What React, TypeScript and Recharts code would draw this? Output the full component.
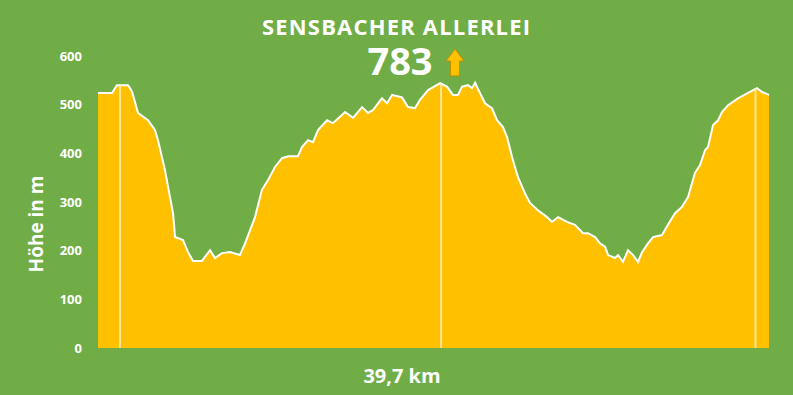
import { AreaChart, Area, XAxis, YAxis, ReferenceLine } from 'recharts'

// elevation profile
const distanceKm = [
  0, 0.83, 1.12, 1.78, 2.01, 2.37, 2.96, 3.37, 3.55, 3.96, 4.26, 4.44, 4.56, 5.03, 5.33, 5.62,
  6.15, 6.63, 6.92, 7.34, 7.81, 8.4, 8.7, 9.29, 9.7, 10.06, 10.47, 10.89, 11.24, 11.83, 12.07,
  12.43, 12.72, 13.02, 13.55, 13.9, 14.62, 15.09, 15.62, 15.98, 16.27, 16.8, 17.1, 17.4, 17.99,
  18.34, 18.76, 19.05, 19.53, 20.24, 20.65, 21.0, 21.3, 21.54, 21.89, 22.13, 22.31, 22.6, 22.9,
  23.31, 23.61, 23.96, 24.2, 24.5, 24.85, 25.26, 25.56, 26.03, 26.57, 26.86, 27.22, 27.75, 28.22,
  28.7, 28.99, 29.41, 29.7, 30.0, 30.18, 30.59, 30.77, 31.06, 31.36, 31.66, 31.95, 32.19, 32.54,
  32.84, 33.37, 33.72, 34.14, 34.55, 34.91, 35.32, 35.62, 35.92, 36.09, 36.39, 36.69, 36.92,
  37.28, 37.87, 38.46, 38.99, 39.29, 39.7,
]
const elevationM = [
  524, 524, 540, 540, 527, 483, 468, 448, 427, 366, 310, 277, 228, 222, 197, 179,
  179, 201, 185, 195, 197, 191, 215, 269, 325, 345, 372, 390, 394, 394, 413,
  427, 423, 448, 468, 462, 485, 473, 495, 483, 489, 513, 503, 520, 515,
  495, 493, 510, 530, 544, 537, 520, 520, 537, 540, 534, 545, 524, 503,
  493, 468, 454, 434, 392, 351, 318, 298, 283, 269, 259, 269, 259, 253,
  236, 236, 228, 215, 208, 191, 185, 191, 177, 201, 191, 177, 197, 215,
  228, 232, 253, 277, 290, 310, 360, 376, 407, 413, 458, 468, 485,
  499, 513, 524, 534, 526, 520,
]
const yTicks = [0, 100, 200, 300, 400, 500, 600]
const markerKm = [1.3, 20.3, 38.9]

const title = 'SENSBACHER ALLERLEI'
const maxElevation = '783'
const distanceLabel = '39,7 km'
const yLabel = 'Höhe in m'

const data = distanceKm.map((km, i) => ({ km, ele: elevationM[i] }))

function eleAt(km: number) {
  for (let i = 1; i < distanceKm.length; i++) {
    if (km <= distanceKm[i]) {
      const t = (km - distanceKm[i - 1]) / (distanceKm[i] - distanceKm[i - 1])
      return elevationM[i - 1] + t * (elevationM[i] - elevationM[i - 1])
    }
  }
  return elevationM[elevationM.length - 1]
}

const font = '"Open Sans", sans-serif'

export default function App() {
  return (
    <div style={{ position: 'absolute', left: 0, top: 0, width: 793, height: 395, background: '#70AD47', fontFamily: font }}>
      <AreaChart width={793} height={395} data={data} margin={{ top: 56, right: 24, bottom: 47, left: 0 }}>
        <XAxis dataKey="km" type="number" domain={[0, 39.7]} hide />
        <YAxis
          width={98}
          domain={[0, 600]}
          ticks={yTicks}
          axisLine={false}
          tickLine={false}
          tickMargin={10}
          tick={{ fill: '#fff', fontSize: 13, fontWeight: 700, fontFamily: font }}
        />
        <Area
          type="linear"
          dataKey="ele"
          fill="#FFC000"
          fillOpacity={1}
          stroke="#fff"
          strokeWidth={2}
          isAnimationActive={false}
        />
        {markerKm.map((km) => (
          <ReferenceLine
            key={km}
            segment={[{ x: km, y: 0 }, { x: km, y: eleAt(km) }]}
            stroke="#FFE699"
            strokeWidth={2}
          />
        ))}
      </AreaChart>
      <svg width={793} height={395} style={{ position: 'absolute', left: 0, top: 0, pointerEvents: 'none' }}>
        <text x={396} y={35} textAnchor="middle" fill="#fff" fontSize={22} fontWeight={700} fontFamily={font} textLength={268} lengthAdjust="spacing">
          {title}
        </text>
        <text x={400} y={75} textAnchor="middle" fill="#fff" fontSize={38} fontWeight={700} fontFamily={font}>
          {maxElevation}
        </text>
        <path d="M455 49 L464 61 L459.5 61 L459.5 76 L450.5 76 L450.5 61 L446 61 Z" fill="#FFC000" stroke="#BF9000" strokeWidth={1} />
        <text x={402} y={383} textAnchor="middle" fill="#fff" fontSize={20} fontWeight={700} fontFamily={font}>
          {distanceLabel}
        </text>
        <text transform="translate(43,224) rotate(-90)" textAnchor="middle" fill="#fff" fontSize={19} fontWeight={700} fontFamily={font}>
          {yLabel}
        </text>
      </svg>
    </div>
  )
}
